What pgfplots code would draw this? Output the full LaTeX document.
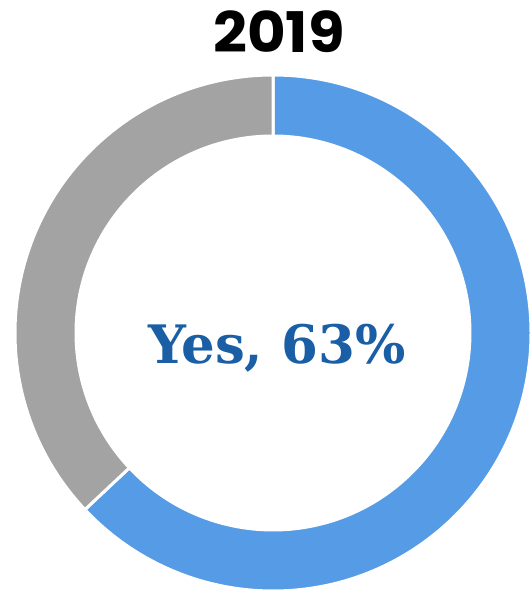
\documentclass[border=0pt]{standalone}
\usepackage{pgfplots}
\pgfplotsset{compat=1.18}
\usepackage{pgfplotstable}
\usepackage{fontspec}
\newfontfamily\titlefont{Poppins}
\newfontfamily\slabfont{DejaVu Serif}
\definecolor{segblue}{RGB}{85,155,230}
\definecolor{seggray}{RGB}{163,163,163}
\definecolor{txtblue}{RGB}{26,94,166}
\pgfplotstableread{
label value
Yes 63
No 37
}\shares
\pgfplotstablegetelem{0}{value}\of\shares
\let\yesval\pgfplotsretval
\pgfmathsetmacro\aend{90-3.6*\yesval}
\pgfmathsetmacro\gend{90-360}
\begin{document}
\begin{tikzpicture}
\begin{axis}[x=1pt,y=1pt,xmin=0,xmax=531,ymin=0,ymax=594,hide axis,clip=false,disabledatascaling]
\fill[segblue,draw=white,line width=3pt] (axis cs:273,261) ++(90:258) arc[start angle=90,end angle=\aend,radius=258] -- ++(\aend+180:61) arc[start angle=\aend,end angle=90,radius=197] -- cycle;
\fill[seggray,draw=white,line width=3pt] (axis cs:273,261) ++(\aend:258) arc[start angle=\aend,end angle=\gend,radius=258] -- ++(\gend+180:61) arc[start angle=\gend,end angle=\aend,radius=197] -- cycle;
\node[font=\titlefont\bfseries\fontsize{56}{60}\selectfont] at (axis cs:279,562) {\scalebox{1.06}[1]{2019}};
\node[anchor=base,text=txtblue,font=\slabfont\bfseries\fontsize{53}{60}\selectfont] at (axis cs:277,230) {Yes, 63\%};
\end{axis}
\pgfresetboundingbox
\path[use as bounding box] (current axis.south west) rectangle (current axis.north east);
\end{tikzpicture}
\end{document}
